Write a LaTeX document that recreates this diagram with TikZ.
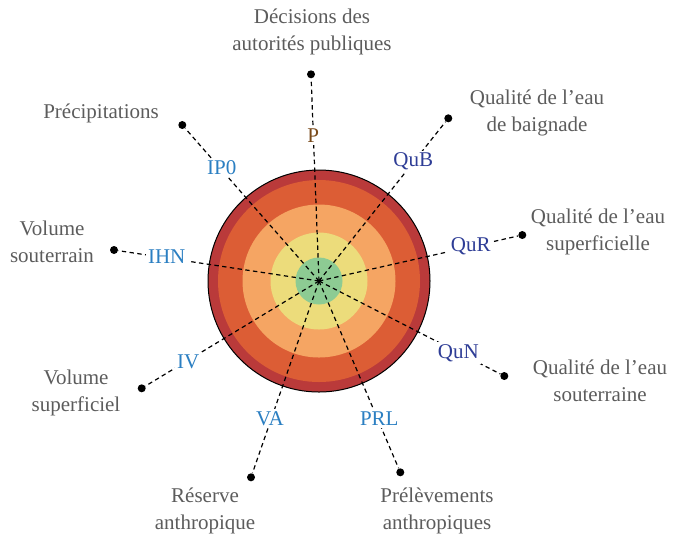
\documentclass[tikz,border=0pt]{standalone}
\usepackage{fontspec}
\setmainfont{Liberation Serif}
\usepackage{tikz}
\usepackage{xcolor}

\definecolor{ringred}{HTML}{BA3A3A}
\definecolor{ringorange}{HTML}{DC5D35}
\definecolor{ringlight}{HTML}{F5A563}
\definecolor{ringyellow}{HTML}{ECDC7B}
\definecolor{ringgreen}{HTML}{8DCB93}
\definecolor{txtgray}{HTML}{5C5C5C}
\definecolor{codeblue}{HTML}{2B7FC2}
\definecolor{codenavy}{HTML}{2E3D96}
\definecolor{codebrown}{HTML}{7A4A1A}

\begin{document}
\begin{tikzpicture}[x=0.5pt,y=-0.5pt,font=\fontsize{10.5}{13.5}\selectfont,line cap=round,
  spoke/.style={black,line width=0.6pt,line cap=butt,dash pattern=on 2.2pt off 1.7pt},
  tip/.style={circle,fill=black,inner sep=0pt,minimum size=4pt},
  code/.style={fill=white,inner sep=1.2pt},
  lbl/.style={align=center,text=txtgray}]
\useasboundingbox (0,0) rectangle (674,538);
\coordinate (c) at (319,281);
% rings
\fill[ringred] (c) circle (111);
\fill[ringorange] (c) circle (101);
\fill[ringlight] (c) circle (76.5);
\fill[ringyellow] (c) circle (48.5);
\fill[ringgreen] (c) circle (23.5);
\draw[line width=0.5pt] (c) circle (111);
% end points
\node[tip] (dP) at (311,74.3) {};
\node[tip] (dIP) at (182.3,125) {};
\node[tip] (dQuB) at (448.3,118.3) {};
\node[tip] (dIHN) at (114,250) {};
\node[tip] (dQuR) at (522.3,235) {};
\node[tip] (dIV) at (141.7,388.3) {};
\node[tip] (dQuN) at (504.3,376) {};
\node[tip] (dVA) at (251,477.3) {};
\node[tip] (dPRL) at (400.3,472.3) {};
\foreach \d in {dP,dIP,dQuB,dIHN,dQuR,dIV,dQuN,dVA,dPRL}
  \draw[spoke] (c) -- (\d);
% codes
\node[code,text=codebrown] (P) at (313.3,136) {P};
\node[code,text=codeblue] (IP) at (221.7,168) {IP0};
\node[code,text=codenavy] (QuB) at (413.3,161.7) {QuB};
\node[code,text=codeblue] (IHN) at (166.7,256.7) {IHN};
\node[code,text=codenavy] (QuR) at (470.7,246.7) {QuR};
\node[code,text=codeblue] (IV) at (188.3,361.7) {IV};
\node[code,text=codenavy] (QuN) at (458.3,353.3) {QuN};
\node[code,text=codeblue] (VA) at (270,418.3) {VA};
\node[code,text=codeblue] (PRL) at (379.3,418.3) {PRL};
% texts
\node[lbl] (tP) at (312,32) {Décisions des\\autorités publiques};
\node[lbl] (tIP) at (101,113) {Précipitations};
\node[lbl] (tQuB) at (537,113) {Qualité de l’eau\\de baignade};
\node[lbl] (tIHN) at (52,242) {Volume\\souterrain};
\node[lbl] (tQuR) at (598,232) {Qualité de l’eau\\superficielle};
\node[lbl] (tIV) at (76,393) {Volume\\superficiel};
\node[lbl] (tQuN) at (600,381) {Qualité de l’eau\\souterraine};
\node[lbl] (tVA) at (205,511) {Réserve\\anthropique};
\node[lbl] (tPRL) at (437,511) {Prélèvements\\anthropiques};
\end{tikzpicture}
\end{document}
